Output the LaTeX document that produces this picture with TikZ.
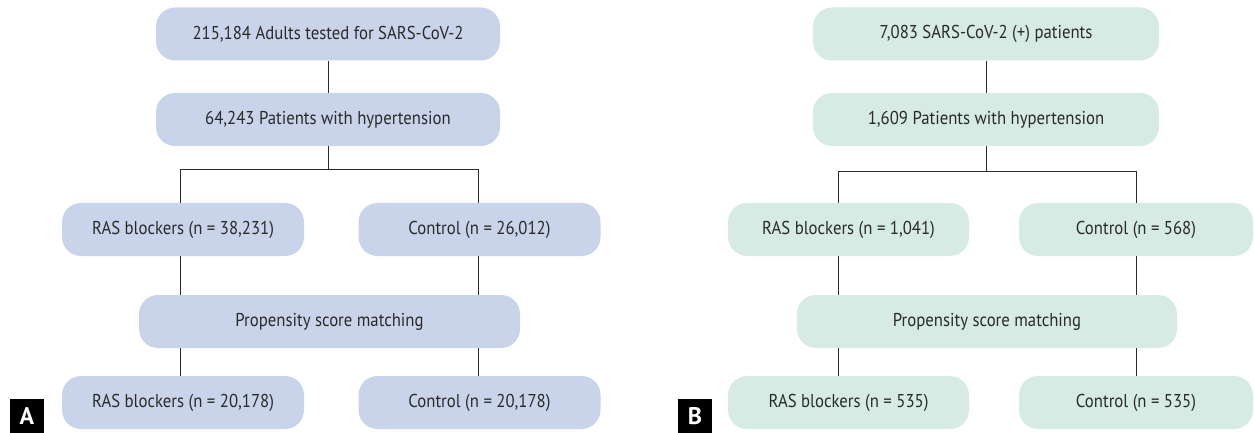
\documentclass[tikz,border=0pt]{standalone}
\usepackage{fontspec}
\setmainfont{PT Sans}[FakeStretch=0.9]
\newfontfamily\tagfont{PT Sans}
\definecolor{boxA}{HTML}{C9D4EA}
\definecolor{boxB}{HTML}{D5EBE3}
\definecolor{ink}{HTML}{2A2A2A}
\begin{document}
\begin{tikzpicture}[x=1pt,y=-1pt,
  flow/.style={rounded corners=19pt, draw=none, minimum height=53pt,
    inner sep=0pt, text=ink, font=\fontsize{18.6}{22}\selectfont},
  fa/.style={flow, fill=boxA},
  fb/.style={flow, fill=boxB},
  link/.style={draw=ink, line width=0.9pt},
  tag/.style={fill=black, text=white, minimum size=34pt, inner sep=0pt,
    font=\tagfont\bfseries\fontsize{24}{26}\selectfont}]
\useasboundingbox (0,0) rectangle (1254,433);

% ---- panel A ----
\node[fa, minimum width=344pt] (a1) at (328,34) {215,184 Adults tested for SARS-CoV-2};
\node[fa, minimum width=344pt] (a2) at (328,119.5) {64,243 Patients with hypertension};
\node[fa, minimum width=242pt] (a3) at (183,229.5) {RAS blockers (n = 38,231)};
\node[fa, minimum width=242pt] (a4) at (479.5,229.5) {Control (n = 26,012)};
\node[fa, minimum width=381pt] (a5) at (329.5,321.5) {Propensity score matching};
\node[fa, minimum width=242pt] (a6) at (183,402.5) {RAS blockers (n = 20,178)};
\node[fa, minimum width=242pt] (a7) at (479.5,402.5) {Control (n = 20,178)};
\coordinate (aL) at (180,169);
\coordinate (aR) at (478,169);
\draw[link] (a1.south) -- (a2.north);
\draw[link] (a2.south) -- (a2.south |- aL);
\draw[link] (aL) -- (aR);
\draw[link] (aL) -- (aL |- a3.north);
\draw[link] (aR) -- (aR |- a4.north);
\draw[link] (aL |- a3.south) -- (aL |- a5.north);
\draw[link] (aR |- a4.south) -- (aR |- a5.north);
\draw[link] (aL |- a5.south) -- (aL |- a6.north);
\draw[link] (aR |- a5.south) -- (aR |- a7.north);
\node[tag] (ta) at (27,416) {A};

% ---- panel B ----
\node[fb, minimum width=346pt] (b1) at (986,34) {7,083 SARS-CoV-2 (+) patients};
\node[fb, minimum width=346pt] (b2) at (986,119.5) {1,609 Patients with hypertension};
\node[fb, minimum width=241pt] (b3) at (848.5,229.5) {RAS blockers (n = 1,041)};
\node[fb, minimum width=234pt] (b4) at (1136,229.5) {Control (n = 568)};
\node[fb, minimum width=380pt] (b5) at (987,321.5) {Propensity score matching};
\node[fb, minimum width=241pt] (b6) at (848.5,402.5) {RAS blockers (n = 535)};
\node[fb, minimum width=234pt] (b7) at (1136,402.5) {Control (n = 535)};
\coordinate (bL) at (838,171);
\coordinate (bR) at (1136,171);
\draw[link] (b1.south) -- (b2.north);
\draw[link] (b2.south) -- (b2.south |- bL);
\draw[link] (bL) -- (bR);
\draw[link] (bL) -- (bL |- b3.north);
\draw[link] (bR) -- (bR |- b4.north);
\draw[link] (bL |- b3.south) -- (bL |- b5.north);
\draw[link] (bR |- b4.south) -- (bR |- b5.north);
\draw[link] (bL |- b5.south) -- (bL |- b6.north);
\draw[link] (bR |- b5.south) -- (bR |- b7.north);
\node[tag] (tb) at (695,416) {B};
\end{tikzpicture}
\end{document}
